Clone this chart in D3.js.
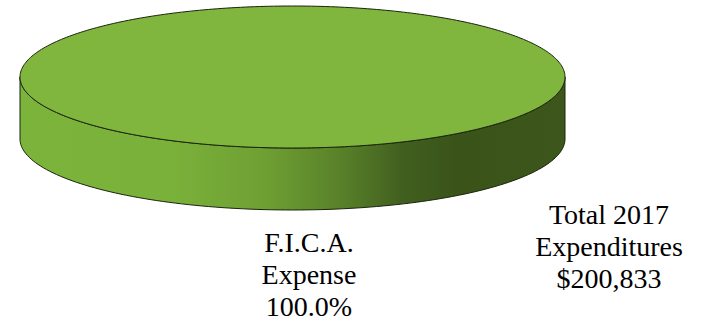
<!DOCTYPE html>
<html>
<head>
<meta charset="utf-8">
<script src="https://cdn.jsdelivr.net/npm/d3@7"></script>
<style>
html,body{margin:0;padding:0;background:#fff;}
svg{display:block;}
text{font-family:"Liberation Serif","Times New Roman",serif;fill:#000;}
</style>
</head>
<body>
<svg id="chart" width="704" height="323"></svg>
<script>
const categories = ["F.I.C.A. Expense"];
const values = [200833];
const labelLines = [["F.I.C.A.", "Expense"]];
const totalLines = ["Total 2017", "Expenditures", "$200,833"];

const svg = d3.select("#chart");
const cx = 292.5, cy = 77, rx = 272.5, ry = 71, depth = 62;

const total = d3.sum(values);
const pie = d3.pie().sort(null).value(d => d);
const arcs = pie(values);

const defs = svg.append("defs");
const grad = defs.append("linearGradient").attr("id", "sideGrad")
  .attr("gradientUnits", "userSpaceOnUse")
  .attr("x1", cx - rx).attr("x2", cx + rx).attr("y1", 0).attr("y2", 0);
[[0, "#7cb33b"], [0.28, "#7ab13a"], [0.45, "#6e9f33"], [0.58, "#5a832a"], [0.7, "#41601f"], [0.8, "#3a5319"], [1, "#3c561b"]]
  .forEach(([o, c]) => grad.append("stop").attr("offset", o).attr("stop-color", c));

function pt(a, dy) { return [cx + rx * Math.sin(a), cy - ry * Math.cos(a) + (dy || 0)]; }
function edge(a0, a1, dy, n) {
  const pts = [];
  for (let i = 0; i <= n; i++) pts.push(pt(a0 + (a1 - a0) * i / n, dy));
  return pts;
}
const line = d3.line();

arcs.forEach((d, i) => {
  const s0 = Math.max(d.startAngle, Math.PI / 2), s1 = Math.min(d.endAngle, 3 * Math.PI / 2);
  if (s1 > s0) {
    const top = edge(s0, s1, 0, 120);
    const bot = edge(s1, s0, depth, 120);
    svg.append("path").attr("d", line(top.concat(bot)) + "Z")
      .attr("fill", "url(#sideGrad)").attr("stroke", "#1a240d").attr("stroke-width", 1);
  }
  const full = d.endAngle - d.startAngle >= 2 * Math.PI - 1e-6;
  let pts = edge(d.startAngle, d.endAngle, 0, 360);
  if (!full) pts = [[cx, cy]].concat(pts);
  svg.append("path").attr("d", line(pts) + "Z")
    .attr("fill", "#80b63e").attr("stroke", "#1a240d").attr("stroke-width", 1);

  const pct = (values[i] / total * 100).toFixed(1) + "%";
  const lines = labelLines[i].concat([pct]);
  const t = svg.append("text").attr("text-anchor", "middle").attr("font-size", 28);
  lines.forEach((s, k) => t.append("tspan").attr("x", 309).attr("y", 252 + k * 32).text(s));
});

const tt = svg.append("text").attr("text-anchor", "middle").attr("font-size", 28);
totalLines.forEach((s, k) => tt.append("tspan").attr("x", 609).attr("y", 224 + k * 32).text(s));
</script>
</body>
</html>
